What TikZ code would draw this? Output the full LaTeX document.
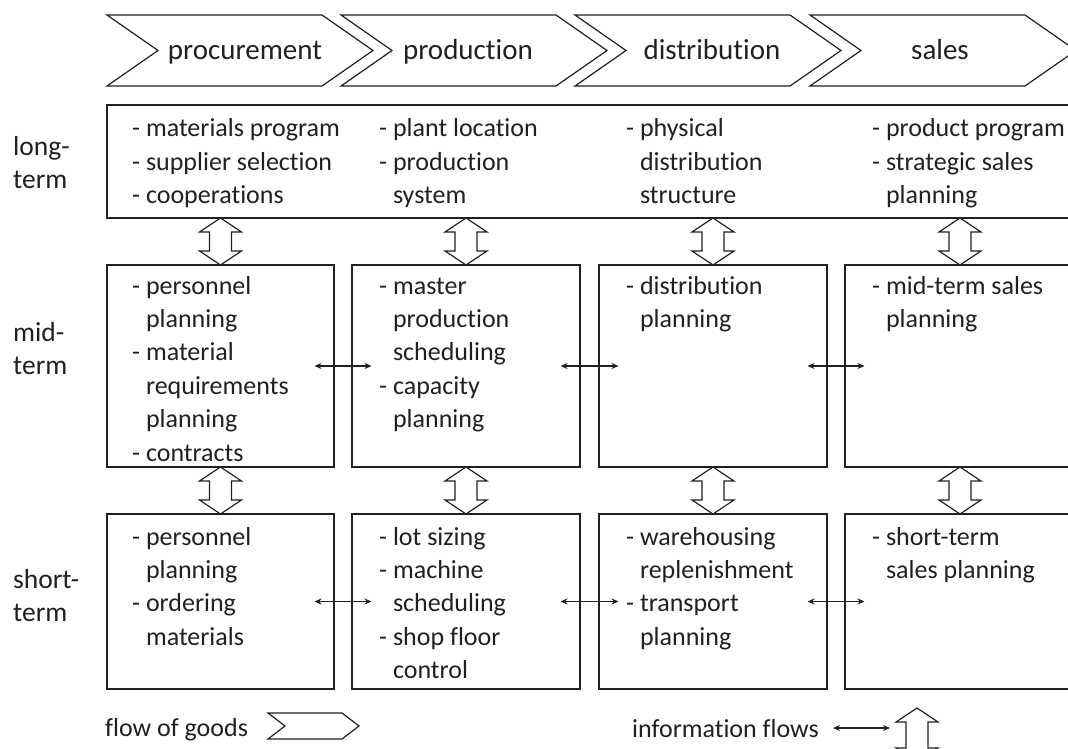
\documentclass[tikz,border=0pt]{standalone}
\usepackage{fontspec}
\setmainfont{Carlito}[Ligatures=NoCommon]
\usetikzlibrary{calc,arrows.meta}
\definecolor{ink}{HTML}{231F20}
% indent for continuation lines of a "- " item
\newcommand\ind{\phantom{- }}
% left-aligned lines whose baseline is the first line
\newcommand\lines[1]{\begin{tabular}[t]{@{}l@{}}#1\end{tabular}}
% hollow vertical double arrow between a top point (#1) and a bottom point (#2)
\newcommand\updown[2]{%
  \draw[dbl] let \p1=#1, \p2=#2 in
    (\x1,\y1) -- (\x1+21pt,\y1-14pt) -- (\x1+11pt,\y1-14pt)
    -- (\x1+11pt,\y2+14pt) -- (\x1+21pt,\y2+14pt) -- (\x1,\y2)
    -- (\x1-21pt,\y2+14pt) -- (\x1-11pt,\y2+14pt)
    -- (\x1-11pt,\y1-14pt) -- (\x1-21pt,\y1-14pt) -- cycle;}
% chevron of the goods flow: left x, top y, body length, height, point depth
\newcommand\chevron[5]{%
  \draw[chev] (#1,#2) -- ++(#3,0) -- ++(#5,#4/2) -- ++(-#5,#4/2)
    -- ++(-#3,0) -- ++(#5,-#4/2) -- cycle;}
\begin{document}
\begin{tikzpicture}[x=1pt,y=-1pt,
  frame/.style={draw=ink, line width=1.2pt, inner sep=0pt, outer sep=0pt, anchor=north west},
  chev/.style={draw=ink, line width=1.2pt, line join=miter},
  item/.style={text=ink, font=\fontsize{26}{33.4}\selectfont, anchor=base west, inner sep=0pt},
  head/.style={text=ink, font=\fontsize{29}{34}\selectfont, anchor=base, inner sep=0pt},
  rowlab/.style={text=ink, font=\fontsize{27.5}{33.5}\selectfont, anchor=base west, inner sep=0pt},
  legend/.style={text=ink, font=\fontsize{26}{32}\selectfont, anchor=base west, inner sep=0pt},
  info/.style={draw=ink, line width=1.2pt, {Stealth[length=7pt,width=6pt]}-{Stealth[length=7pt,width=6pt]}},
  dbl/.style={draw=ink, line width=1.2pt, fill=white, line join=miter}]
\path[use as bounding box, clip] (0,0) rectangle (1068,749);

% value chain stages
\chevron{107}{15}{215}{71}{51}
\chevron{341}{15}{215}{71}{51}
\chevron{575}{15}{215}{71}{51}
\chevron{810}{15}{215}{71}{51}
\node[head] (h1) at (245,60) {procurement};
\node[head] (h2) at (468,60) {production};
\node[head] (h3) at (712,60) {distribution};
\node[head] (h4) at (940,60) {sales};

% planning horizons
\node[rowlab] (r1) at (13,155) {\lines{long-\\term}};
\node[rowlab] (r2) at (13,341) {\lines{mid-\\term}};
\node[rowlab] (r3) at (13,588) {\lines{short-\\term}};

% long-term box
\node[frame, minimum width=973pt, minimum height=113pt] (L) at (107,105) {};
% mid-term boxes
\node[frame, minimum width=227pt, minimum height=202pt] (M1) at (107,265) {};
\node[frame, minimum width=228pt, minimum height=202pt] (M2) at (352,265) {};
\node[frame, minimum width=228pt, minimum height=202pt] (M3) at (599,265) {};
\node[frame, minimum width=230pt, minimum height=202pt] (M4) at (845,265) {};
% short-term boxes
\node[frame, minimum width=227pt, minimum height=175pt] (S1) at (107,514) {};
\node[frame, minimum width=228pt, minimum height=175pt] (S2) at (352,514) {};
\node[frame, minimum width=228pt, minimum height=175pt] (S3) at (599,514) {};
\node[frame, minimum width=230pt, minimum height=175pt] (S4) at (845,514) {};

% long-term tasks
\node[item] (L1t) at (132,137) {\lines{- materials program\\- supplier selection\\- cooperations}};
\node[item] (L2t) at (379,137) {\lines{- plant location\\- production\\\ind system}};
\node[item] (L3t) at (626,137) {\lines{- physical\\\ind distribution\\\ind structure}};
\node[item] (L4t) at (872,137) {\lines{- product program\\- strategic sales\\\ind planning}};

% mid-term tasks
\node[item] (M1t) at (132,294) {\lines{- personnel\\\ind planning\\- material\\\ind requirements\\\ind planning\\- contracts}};
\node[item] (M2t) at (379,294) {\lines{- master\\\ind production\\\ind scheduling\\- capacity\\\ind planning}};
\node[item] (M3t) at (626,294) {\lines{- distribution\\\ind planning}};
\node[item] (M4t) at (872,294) {\lines{- mid-term sales\\\ind planning}};

% short-term tasks
\node[item] (S1t) at (132,545) {\lines{- personnel\\\ind planning\\- ordering\\\ind materials}};
\node[item] (S2t) at (379,545) {\lines{- lot sizing\\- machine\\\ind scheduling\\- shop floor\\\ind control}};
\node[item] (S3t) at (626,545) {\lines{- warehousing\\\ind replenishment\\- transport\\\ind planning}};
\node[item] (S4t) at (872,545) {\lines{- short-term\\\ind sales planning}};

% vertical information flows
\updown{(L.south -| M1.north)}{(M1.north)}
\updown{(L.south -| M2.north)}{(M2.north)}
\updown{(L.south -| M3.north)}{(M3.north)}
\updown{(L.south -| M4.north)}{(M4.north)}
\updown{(M1.south)}{(S1.north)}
\updown{(M2.south)}{(S2.north)}
\updown{(M3.south)}{(S3.north)}
\updown{(M4.south)}{(S4.north)}

% horizontal information flows
\draw[info] ($(M1.east)+(-19.5pt,0)$) -- ($(M2.west)+(19.5pt,0)$);
\draw[info] ($(M2.east)+(-19.5pt,0)$) -- ($(M3.west)+(19.5pt,0)$);
\draw[info] ($(M3.east)+(-19.5pt,0)$) -- ($(M4.west)+(19.5pt,0)$);
\draw[info] ($(S1.east)+(-19.5pt,0)$) -- ($(S2.west)+(19.5pt,0)$);
\draw[info] ($(S2.east)+(-19.5pt,0)$) -- ($(S3.west)+(19.5pt,0)$);
\draw[info] ($(S3.east)+(-19.5pt,0)$) -- ($(S4.west)+(19.5pt,0)$);

% legend
\node[legend] (lg1) at (105,736) {flow of goods};
\chevron{268}{713}{74}{26}{17}
\node[legend] (lg2) at (632,737) {information flows};
\coordinate (ia) at (833,728);
\coordinate (ib) at (890,728);
\draw[info] (ia) -- (ib);
\coordinate (ua) at (917,708);
\coordinate (ub) at (917,762);
\updown{(ua)}{(ub)}
\end{tikzpicture}
\end{document}
